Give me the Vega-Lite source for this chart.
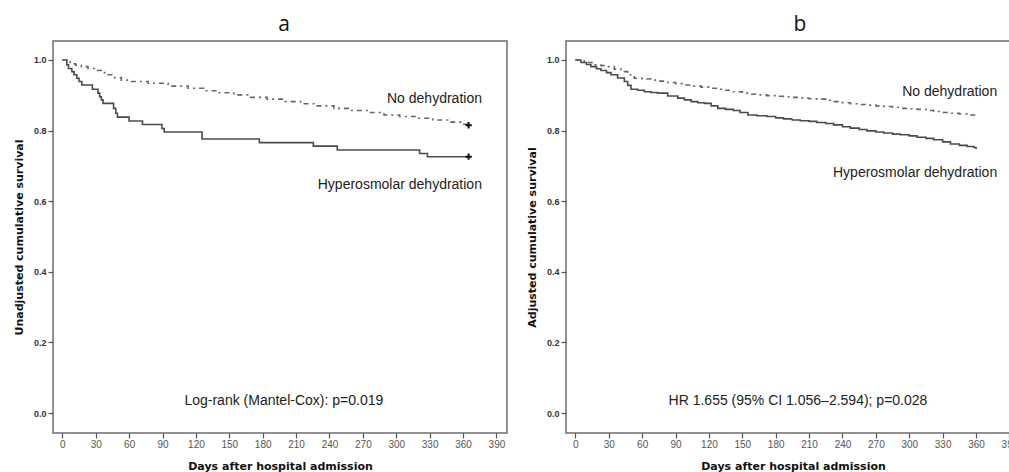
{
  "$schema": "https://vega.github.io/schema/vega-lite/v6.json",
  "padding": {"left": 12, "top": 13, "right": 0, "bottom": 0},
  "background": "white",
  "datasets": {
    "curves": [
      {"panel": "a", "group": "Hyperosmolar dehydration", "day": 0, "surv": 1.0},
      {"panel": "a", "group": "Hyperosmolar dehydration", "day": 4, "surv": 0.986},
      {"panel": "a", "group": "Hyperosmolar dehydration", "day": 5.5, "surv": 0.976},
      {"panel": "a", "group": "Hyperosmolar dehydration", "day": 8.5, "surv": 0.967},
      {"panel": "a", "group": "Hyperosmolar dehydration", "day": 10.5, "surv": 0.958},
      {"panel": "a", "group": "Hyperosmolar dehydration", "day": 13, "surv": 0.948},
      {"panel": "a", "group": "Hyperosmolar dehydration", "day": 15, "surv": 0.939},
      {"panel": "a", "group": "Hyperosmolar dehydration", "day": 17.5, "surv": 0.929},
      {"panel": "a", "group": "Hyperosmolar dehydration", "day": 27, "surv": 0.917},
      {"panel": "a", "group": "Hyperosmolar dehydration", "day": 32, "surv": 0.906},
      {"panel": "a", "group": "Hyperosmolar dehydration", "day": 33.5, "surv": 0.896},
      {"panel": "a", "group": "Hyperosmolar dehydration", "day": 35, "surv": 0.887},
      {"panel": "a", "group": "Hyperosmolar dehydration", "day": 36.5, "surv": 0.877},
      {"panel": "a", "group": "Hyperosmolar dehydration", "day": 46, "surv": 0.863},
      {"panel": "a", "group": "Hyperosmolar dehydration", "day": 48, "surv": 0.849},
      {"panel": "a", "group": "Hyperosmolar dehydration", "day": 49.5, "surv": 0.838},
      {"panel": "a", "group": "Hyperosmolar dehydration", "day": 60, "surv": 0.827},
      {"panel": "a", "group": "Hyperosmolar dehydration", "day": 72, "surv": 0.817},
      {"panel": "a", "group": "Hyperosmolar dehydration", "day": 89.5, "surv": 0.806},
      {"panel": "a", "group": "Hyperosmolar dehydration", "day": 91.5, "surv": 0.796},
      {"panel": "a", "group": "Hyperosmolar dehydration", "day": 125.5, "surv": 0.776},
      {"panel": "a", "group": "Hyperosmolar dehydration", "day": 177, "surv": 0.766},
      {"panel": "a", "group": "Hyperosmolar dehydration", "day": 225.5, "surv": 0.756},
      {"panel": "a", "group": "Hyperosmolar dehydration", "day": 247, "surv": 0.745},
      {"panel": "a", "group": "Hyperosmolar dehydration", "day": 321, "surv": 0.735},
      {"panel": "a", "group": "Hyperosmolar dehydration", "day": 328, "surv": 0.726},
      {"panel": "a", "group": "Hyperosmolar dehydration", "day": 365, "surv": 0.726},
      {"panel": "a", "group": "No dehydration", "day": 0, "surv": 1.0},
      {"panel": "a", "group": "No dehydration", "day": 4, "surv": 0.995},
      {"panel": "a", "group": "No dehydration", "day": 7, "surv": 0.989},
      {"panel": "a", "group": "No dehydration", "day": 12, "surv": 0.985},
      {"panel": "a", "group": "No dehydration", "day": 17, "surv": 0.981},
      {"panel": "a", "group": "No dehydration", "day": 23, "surv": 0.976},
      {"panel": "a", "group": "No dehydration", "day": 29, "surv": 0.970},
      {"panel": "a", "group": "No dehydration", "day": 35, "surv": 0.964},
      {"panel": "a", "group": "No dehydration", "day": 41, "surv": 0.958},
      {"panel": "a", "group": "No dehydration", "day": 47, "surv": 0.950},
      {"panel": "a", "group": "No dehydration", "day": 53, "surv": 0.943},
      {"panel": "a", "group": "No dehydration", "day": 62, "surv": 0.939},
      {"panel": "a", "group": "No dehydration", "day": 77, "surv": 0.934},
      {"panel": "a", "group": "No dehydration", "day": 95, "surv": 0.926},
      {"panel": "a", "group": "No dehydration", "day": 113, "surv": 0.920},
      {"panel": "a", "group": "No dehydration", "day": 127, "surv": 0.913},
      {"panel": "a", "group": "No dehydration", "day": 139, "surv": 0.907},
      {"panel": "a", "group": "No dehydration", "day": 154, "surv": 0.901},
      {"panel": "a", "group": "No dehydration", "day": 169, "surv": 0.894},
      {"panel": "a", "group": "No dehydration", "day": 184, "surv": 0.889},
      {"panel": "a", "group": "No dehydration", "day": 199, "surv": 0.882},
      {"panel": "a", "group": "No dehydration", "day": 214, "surv": 0.876},
      {"panel": "a", "group": "No dehydration", "day": 229, "surv": 0.870},
      {"panel": "a", "group": "No dehydration", "day": 244, "surv": 0.863},
      {"panel": "a", "group": "No dehydration", "day": 259, "surv": 0.857},
      {"panel": "a", "group": "No dehydration", "day": 274, "surv": 0.851},
      {"panel": "a", "group": "No dehydration", "day": 289, "surv": 0.844},
      {"panel": "a", "group": "No dehydration", "day": 303, "surv": 0.840},
      {"panel": "a", "group": "No dehydration", "day": 318, "surv": 0.835},
      {"panel": "a", "group": "No dehydration", "day": 333, "surv": 0.830},
      {"panel": "a", "group": "No dehydration", "day": 348, "surv": 0.824},
      {"panel": "a", "group": "No dehydration", "day": 358, "surv": 0.818},
      {"panel": "a", "group": "No dehydration", "day": 365, "surv": 0.815},
      {"panel": "b", "group": "Hyperosmolar dehydration", "day": 0, "surv": 1.0},
      {"panel": "b", "group": "Hyperosmolar dehydration", "day": 5, "surv": 0.993},
      {"panel": "b", "group": "Hyperosmolar dehydration", "day": 10, "surv": 0.987},
      {"panel": "b", "group": "Hyperosmolar dehydration", "day": 14, "surv": 0.981},
      {"panel": "b", "group": "Hyperosmolar dehydration", "day": 19, "surv": 0.975},
      {"panel": "b", "group": "Hyperosmolar dehydration", "day": 23, "surv": 0.970},
      {"panel": "b", "group": "Hyperosmolar dehydration", "day": 28, "surv": 0.964},
      {"panel": "b", "group": "Hyperosmolar dehydration", "day": 32, "surv": 0.958},
      {"panel": "b", "group": "Hyperosmolar dehydration", "day": 38, "surv": 0.949},
      {"panel": "b", "group": "Hyperosmolar dehydration", "day": 44, "surv": 0.939},
      {"panel": "b", "group": "Hyperosmolar dehydration", "day": 47, "surv": 0.928},
      {"panel": "b", "group": "Hyperosmolar dehydration", "day": 50, "surv": 0.917},
      {"panel": "b", "group": "Hyperosmolar dehydration", "day": 56, "surv": 0.914},
      {"panel": "b", "group": "Hyperosmolar dehydration", "day": 62, "surv": 0.910},
      {"panel": "b", "group": "Hyperosmolar dehydration", "day": 68, "surv": 0.908},
      {"panel": "b", "group": "Hyperosmolar dehydration", "day": 74, "surv": 0.906},
      {"panel": "b", "group": "Hyperosmolar dehydration", "day": 83, "surv": 0.898},
      {"panel": "b", "group": "Hyperosmolar dehydration", "day": 92, "surv": 0.892},
      {"panel": "b", "group": "Hyperosmolar dehydration", "day": 98, "surv": 0.887},
      {"panel": "b", "group": "Hyperosmolar dehydration", "day": 104, "surv": 0.882},
      {"panel": "b", "group": "Hyperosmolar dehydration", "day": 110, "surv": 0.879},
      {"panel": "b", "group": "Hyperosmolar dehydration", "day": 116, "surv": 0.877},
      {"panel": "b", "group": "Hyperosmolar dehydration", "day": 122, "surv": 0.870},
      {"panel": "b", "group": "Hyperosmolar dehydration", "day": 128, "surv": 0.863},
      {"panel": "b", "group": "Hyperosmolar dehydration", "day": 135, "surv": 0.860},
      {"panel": "b", "group": "Hyperosmolar dehydration", "day": 142, "surv": 0.857},
      {"panel": "b", "group": "Hyperosmolar dehydration", "day": 148, "surv": 0.851},
      {"panel": "b", "group": "Hyperosmolar dehydration", "day": 155, "surv": 0.844},
      {"panel": "b", "group": "Hyperosmolar dehydration", "day": 163, "surv": 0.842},
      {"panel": "b", "group": "Hyperosmolar dehydration", "day": 172, "surv": 0.840},
      {"panel": "b", "group": "Hyperosmolar dehydration", "day": 180, "surv": 0.836},
      {"panel": "b", "group": "Hyperosmolar dehydration", "day": 187, "surv": 0.833},
      {"panel": "b", "group": "Hyperosmolar dehydration", "day": 195, "surv": 0.830},
      {"panel": "b", "group": "Hyperosmolar dehydration", "day": 202, "surv": 0.828},
      {"panel": "b", "group": "Hyperosmolar dehydration", "day": 210, "surv": 0.826},
      {"panel": "b", "group": "Hyperosmolar dehydration", "day": 217, "surv": 0.823},
      {"panel": "b", "group": "Hyperosmolar dehydration", "day": 225, "surv": 0.820},
      {"panel": "b", "group": "Hyperosmolar dehydration", "day": 232, "surv": 0.816},
      {"panel": "b", "group": "Hyperosmolar dehydration", "day": 240, "surv": 0.811},
      {"panel": "b", "group": "Hyperosmolar dehydration", "day": 247, "surv": 0.807},
      {"panel": "b", "group": "Hyperosmolar dehydration", "day": 255, "surv": 0.803},
      {"panel": "b", "group": "Hyperosmolar dehydration", "day": 262, "surv": 0.799},
      {"panel": "b", "group": "Hyperosmolar dehydration", "day": 270, "surv": 0.796},
      {"panel": "b", "group": "Hyperosmolar dehydration", "day": 277, "surv": 0.793},
      {"panel": "b", "group": "Hyperosmolar dehydration", "day": 285, "surv": 0.790},
      {"panel": "b", "group": "Hyperosmolar dehydration", "day": 292, "surv": 0.788},
      {"panel": "b", "group": "Hyperosmolar dehydration", "day": 300, "surv": 0.785},
      {"panel": "b", "group": "Hyperosmolar dehydration", "day": 307, "surv": 0.781},
      {"panel": "b", "group": "Hyperosmolar dehydration", "day": 315, "surv": 0.778},
      {"panel": "b", "group": "Hyperosmolar dehydration", "day": 322, "surv": 0.774},
      {"panel": "b", "group": "Hyperosmolar dehydration", "day": 330, "surv": 0.768},
      {"panel": "b", "group": "Hyperosmolar dehydration", "day": 337, "surv": 0.762},
      {"panel": "b", "group": "Hyperosmolar dehydration", "day": 345, "surv": 0.758},
      {"panel": "b", "group": "Hyperosmolar dehydration", "day": 352, "surv": 0.755},
      {"panel": "b", "group": "Hyperosmolar dehydration", "day": 358, "surv": 0.752},
      {"panel": "b", "group": "Hyperosmolar dehydration", "day": 360, "surv": 0.748},
      {"panel": "b", "group": "No dehydration", "day": 0, "surv": 1.0},
      {"panel": "b", "group": "No dehydration", "day": 8, "surv": 0.993},
      {"panel": "b", "group": "No dehydration", "day": 17, "surv": 0.986},
      {"panel": "b", "group": "No dehydration", "day": 23, "surv": 0.984},
      {"panel": "b", "group": "No dehydration", "day": 29, "surv": 0.981},
      {"panel": "b", "group": "No dehydration", "day": 35, "surv": 0.974},
      {"panel": "b", "group": "No dehydration", "day": 41, "surv": 0.967},
      {"panel": "b", "group": "No dehydration", "day": 47, "surv": 0.958},
      {"panel": "b", "group": "No dehydration", "day": 53, "surv": 0.948},
      {"panel": "b", "group": "No dehydration", "day": 60, "surv": 0.946},
      {"panel": "b", "group": "No dehydration", "day": 68, "surv": 0.943},
      {"panel": "b", "group": "No dehydration", "day": 75, "surv": 0.940},
      {"panel": "b", "group": "No dehydration", "day": 83, "surv": 0.936},
      {"panel": "b", "group": "No dehydration", "day": 90, "surv": 0.933},
      {"panel": "b", "group": "No dehydration", "day": 98, "surv": 0.929},
      {"panel": "b", "group": "No dehydration", "day": 105, "surv": 0.926},
      {"panel": "b", "group": "No dehydration", "day": 113, "surv": 0.923},
      {"panel": "b", "group": "No dehydration", "day": 120, "surv": 0.920},
      {"panel": "b", "group": "No dehydration", "day": 128, "surv": 0.917},
      {"panel": "b", "group": "No dehydration", "day": 135, "surv": 0.914},
      {"panel": "b", "group": "No dehydration", "day": 142, "surv": 0.910},
      {"panel": "b", "group": "No dehydration", "day": 150, "surv": 0.906},
      {"panel": "b", "group": "No dehydration", "day": 157, "surv": 0.903},
      {"panel": "b", "group": "No dehydration", "day": 165, "surv": 0.901},
      {"panel": "b", "group": "No dehydration", "day": 172, "surv": 0.899},
      {"panel": "b", "group": "No dehydration", "day": 180, "surv": 0.897},
      {"panel": "b", "group": "No dehydration", "day": 187, "surv": 0.896},
      {"panel": "b", "group": "No dehydration", "day": 195, "surv": 0.894},
      {"panel": "b", "group": "No dehydration", "day": 202, "surv": 0.892},
      {"panel": "b", "group": "No dehydration", "day": 210, "surv": 0.890},
      {"panel": "b", "group": "No dehydration", "day": 217, "surv": 0.889},
      {"panel": "b", "group": "No dehydration", "day": 225, "surv": 0.886},
      {"panel": "b", "group": "No dehydration", "day": 232, "surv": 0.882},
      {"panel": "b", "group": "No dehydration", "day": 240, "surv": 0.879},
      {"panel": "b", "group": "No dehydration", "day": 247, "surv": 0.876},
      {"panel": "b", "group": "No dehydration", "day": 255, "surv": 0.874},
      {"panel": "b", "group": "No dehydration", "day": 262, "surv": 0.872},
      {"panel": "b", "group": "No dehydration", "day": 270, "surv": 0.870},
      {"panel": "b", "group": "No dehydration", "day": 277, "surv": 0.868},
      {"panel": "b", "group": "No dehydration", "day": 285, "surv": 0.866},
      {"panel": "b", "group": "No dehydration", "day": 292, "surv": 0.863},
      {"panel": "b", "group": "No dehydration", "day": 300, "surv": 0.862},
      {"panel": "b", "group": "No dehydration", "day": 307, "surv": 0.860},
      {"panel": "b", "group": "No dehydration", "day": 315, "surv": 0.857},
      {"panel": "b", "group": "No dehydration", "day": 322, "surv": 0.854},
      {"panel": "b", "group": "No dehydration", "day": 330, "surv": 0.851},
      {"panel": "b", "group": "No dehydration", "day": 337, "surv": 0.849},
      {"panel": "b", "group": "No dehydration", "day": 345, "surv": 0.847},
      {"panel": "b", "group": "No dehydration", "day": 352, "surv": 0.844},
      {"panel": "b", "group": "No dehydration", "day": 360, "surv": 0.842}
    ],
    "censored": [
      {"panel": "a", "group": "No dehydration", "day": 365, "surv": 0.815},
      {"panel": "a", "group": "Hyperosmolar dehydration", "day": 365, "surv": 0.726}
    ],
    "notes": [
      {"panel": "a", "day": 377, "surv": 0.89, "label": "No dehydration", "kind": "right"},
      {"panel": "a", "day": 377, "surv": 0.646, "label": "Hyperosmolar dehydration", "kind": "right"},
      {"panel": "a", "day": 199, "surv": 0.033, "label": "Log-rank (Mantel-Cox): p=0.019", "kind": "center"},
      {"panel": "b", "day": 379, "surv": 0.909, "label": "No dehydration", "kind": "right"},
      {"panel": "b", "day": 379, "surv": 0.68, "label": "Hyperosmolar dehydration", "kind": "right"},
      {"panel": "b", "day": 200, "surv": 0.033, "label": "HR 1.655 (95% CI 1.056–2.594); p=0.028", "kind": "center"}
    ]
  },
  "hconcat": [
    {
      "title": {"text": "a", "dx": 4},
      "width": 454,
      "height": 392,
      "encoding": {
        "x": {"field": "day", "type": "quantitative", "scale": {"domain": [-8.4, 399.5], "nice": false, "zero": false},
              "axis": {"values": [0, 30, 60, 90, 120, 150, 180, 210, 240, 270, 300, 330, 360, 390], "labelOverlap": false, "labelBound": false, "labelSeparation": 0, "tickCount": 14}, "title": "Days after hospital admission"},
        "y": {"field": "surv", "type": "quantitative", "scale": {"domain": [-0.0566, 1.0537], "nice": false, "zero": false},
              "axis": {"values": [0, 0.2, 0.4, 0.6, 0.8, 1.0], "format": ".1f", "labelOverlap": false}, "title": "Unadjusted cumulative survival"}
      },
      "layer": [
        {
          "data": {"name": "curves"},
          "transform": [{"filter": "datum.panel === 'a'"}],
          "mark": {"type": "line", "interpolate": "step-after", "strokeWidth": 1.6, "clip": true},
          "encoding": {
            "strokeDash": {"field": "group", "type": "nominal", "scale": {"domain": ["Hyperosmolar dehydration", "No dehydration"], "range": [[1, 0], [5, 4, 2, 4]]}, "legend": null},
            "color": {"field": "group", "type": "nominal", "scale": {"domain": ["Hyperosmolar dehydration", "No dehydration"], "range": ["#4a4a4a", "#666666"]}, "legend": null}
          }
        },
        {
          "data": {"name": "censored"},
          "transform": [{"filter": "datum.panel === 'a'"}],
          "mark": {"type": "point", "shape": "M-1,0H1M0,-1V1", "filled": false, "size": 40, "strokeWidth": 2, "color": "#111111", "opacity": 1}
        },
        {
          "data": {"name": "notes"},
          "transform": [{"filter": "datum.panel === 'a' && datum.kind === 'right'"}],
          "mark": {"type": "text", "align": "right", "baseline": "middle", "font": "Liberation Sans", "fontSize": 14, "color": "#222222"},
          "encoding": {"text": {"field": "label"}}
        },
        {
          "data": {"name": "notes"},
          "transform": [{"filter": "datum.panel === 'a' && datum.kind === 'center'"}],
          "mark": {"type": "text", "align": "center", "baseline": "middle", "font": "Liberation Sans", "fontSize": 14, "color": "#222222"},
          "encoding": {"text": {"field": "label"}}
        }
      ]
    },
    {
      "title": {"text": "b", "dx": 7},
      "width": 454,
      "height": 392,
      "encoding": {
        "x": {"field": "day", "type": "quantitative", "scale": {"domain": [-8.4, 399.5], "nice": false, "zero": false},
              "axis": {"values": [0, 30, 60, 90, 120, 150, 180, 210, 240, 270, 300, 330, 360, 390], "labelOverlap": false, "labelBound": false, "labelSeparation": 0, "tickCount": 14}, "title": "Days after hospital admission"},
        "y": {"field": "surv", "type": "quantitative", "scale": {"domain": [-0.0566, 1.0537], "nice": false, "zero": false},
              "axis": {"values": [0, 0.2, 0.4, 0.6, 0.8, 1.0], "format": ".1f", "labelOverlap": false}, "title": "Adjusted cumulative survival"}
      },
      "layer": [
        {
          "data": {"name": "curves"},
          "transform": [{"filter": "datum.panel === 'b'"}],
          "mark": {"type": "line", "interpolate": "step-after", "strokeWidth": 1.6, "clip": true},
          "encoding": {
            "strokeDash": {"field": "group", "type": "nominal", "scale": {"domain": ["Hyperosmolar dehydration", "No dehydration"], "range": [[1, 0], [5, 4, 2, 4]]}, "legend": null},
            "color": {"field": "group", "type": "nominal", "scale": {"domain": ["Hyperosmolar dehydration", "No dehydration"], "range": ["#3a3a3a", "#666666"]}, "legend": null}
          }
        },
        {
          "data": {"name": "notes"},
          "transform": [{"filter": "datum.panel === 'b' && datum.kind === 'right'"}],
          "mark": {"type": "text", "align": "right", "baseline": "middle", "font": "Liberation Sans", "fontSize": 14, "color": "#222222"},
          "encoding": {"text": {"field": "label"}}
        },
        {
          "data": {"name": "notes"},
          "transform": [{"filter": "datum.panel === 'b' && datum.kind === 'center'"}],
          "mark": {"type": "text", "align": "center", "baseline": "middle", "font": "Liberation Sans", "fontSize": 14, "color": "#222222"},
          "encoding": {"text": {"field": "label"}}
        }
      ]
    }
  ],
  "spacing": 59,
  "bounds": "flush",
  "config": {
    "view": {"stroke": "#6e6e6e", "strokeWidth": 1.5},
    "title": {"font": "Open Sans", "fontSize": 21, "fontWeight": "normal", "color": "#111111", "offset": 6},
    "axis": {
      "grid": false,
      "domain": false,
      "tickColor": "#555555",
      "tickSize": 5,
      "tickWidth": 1.2,
      "labelOverlap": false,
      "labelFont": "Liberation Sans",
      "labelFontSize": 10,
      "labelColor": "#333333",
      "titleFont": "DejaVu Sans",
      "titleFontSize": 11,
      "titleFontWeight": "bold",
      "titleColor": "#111111"
    },
    "axisY": {"labelFontWeight": "bold", "labelPadding": 2, "titlePadding": 9, "labelFontSize": 9},
    "axisX": {"labelPadding": 1, "titlePadding": 11, "labelColor": "#555555", "labelFlush": false}
  }
}
